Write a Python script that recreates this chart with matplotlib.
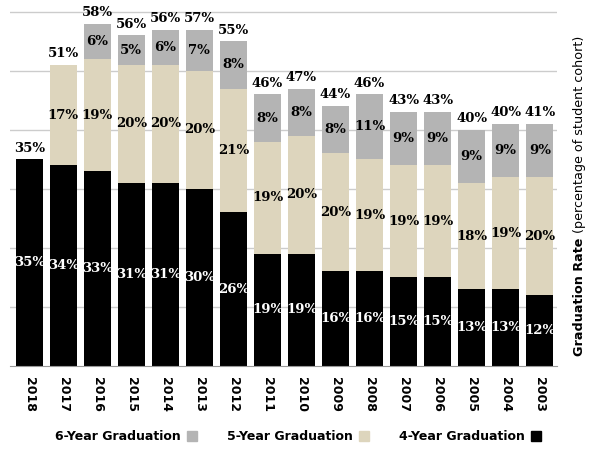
import matplotlib.pyplot as plt
from matplotlib.patches import Patch

# the reference is drawn mirrored: newest year on the left
years = ["2018", "2017", "2016", "2015", "2014", "2013", "2012", "2011",
         "2010", "2009", "2008", "2007", "2006", "2005", "2004", "2003"]
four_year = [35, 34, 33, 31, 31, 30, 26, 19, 19, 16, 16, 15, 15, 13, 13, 12]
five_year = [0, 17, 19, 20, 20, 20, 21, 19, 20, 20, 19, 19, 19, 18, 19, 20]
six_year = [0, 0, 6, 5, 6, 7, 8, 8, 8, 8, 11, 9, 9, 9, 9, 9]
totals = [35, 51, 58, 56, 56, 57, 55, 46, 47, 44, 46, 43, 43, 40, 40, 41]

black = "#000000"
beige = "#ddd5bd"
grey = "#b4b4b4"
label_font = "DejaVu Serif"

fig = plt.figure(figsize=(6, 4.55), dpi=100)
ax = fig.add_axes([0.017, 0.196, 0.911, 0.804])

x = list(range(len(years)))
w = 0.8
bottom5 = four_year
bottom6 = [a + b for a, b in zip(four_year, five_year)]

ax.bar(x, four_year, w, color=black, zorder=2)
ax.bar(x, five_year, w, bottom=bottom5, color=beige, zorder=2)
ax.bar(x, six_year, w, bottom=bottom6, color=grey, zorder=2)

for i in x:
    ax.text(i, four_year[i] / 2, f"{four_year[i]}%", ha="center", va="center",
            color="white", fontsize=9.5, fontweight="bold", family=label_font, zorder=3)
    if five_year[i]:
        ax.text(i, bottom5[i] + five_year[i] / 2, f"{five_year[i]}%", ha="center",
                va="center", color="black", fontsize=9.5, fontweight="bold",
                family=label_font, zorder=3)
    if six_year[i]:
        ax.text(i, bottom6[i] + six_year[i] / 2, f"{six_year[i]}%", ha="center",
                va="center", color="black", fontsize=9.5, fontweight="bold",
                family=label_font, zorder=3)
    top = bottom6[i] + six_year[i]
    ax.text(i, top + 0.8, f"{totals[i]}%", ha="center", va="bottom",
            color="black", fontsize=9.5, fontweight="bold", family=label_font, zorder=3)

ax.set_ylim(0, 62)
ax.set_xlim(-0.56, 15.5)
ax.set_yticks([10, 20, 30, 40, 50, 60])
ax.set_yticklabels([])
ax.tick_params(axis="y", length=0)
ax.grid(axis="y", color="#cccccc", lw=1)
ax.set_axisbelow(True)

ax.set_xticks(x)
ax.set_xticklabels(years, rotation=-90, fontsize=9, fontweight="bold")
ax.tick_params(axis="x", length=0, pad=8)
for s in ["top", "left", "right"]:
    ax.spines[s].set_visible(False)
ax.spines["bottom"].set_color("#999999")

# y label: bold part first, the rest stacked on top of it
lab = fig.text(0.966, 0.218, "Graduation Rate", rotation=90, ha="center",
               va="bottom", fontsize=9.2, fontweight="bold")
ax.annotate("(percentage of student cohort)", xy=(0.5, 1.0), xycoords=lab,
            xytext=(0, 3), textcoords="offset points", rotation=90,
            ha="center", va="bottom", fontsize=9.2, annotation_clip=False)

handles = [Patch(color=grey), Patch(color=beige), Patch(color=black)]
names = ["6-Year Graduation", "5-Year Graduation", "4-Year Graduation"]
fig.legend(handles, names, loc="center", bbox_to_anchor=(0.497, 0.04), ncol=3,
           frameon=False, markerfirst=False, handlelength=0.8, handleheight=0.8,
           columnspacing=2.4, handletextpad=0.5, prop={"weight": "bold", "size": 9})

fig.savefig("out.png", dpi=100)
